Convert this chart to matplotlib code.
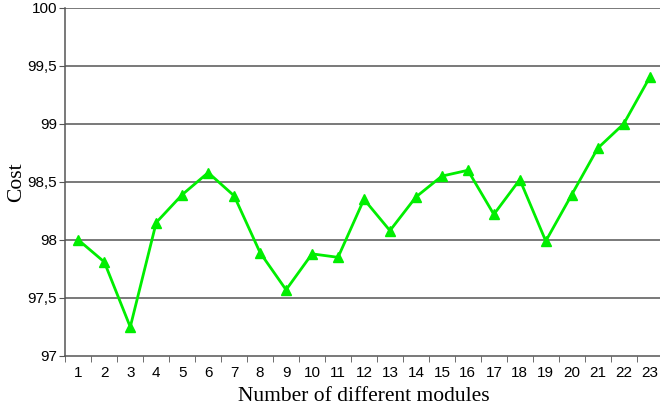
import matplotlib
matplotlib.use('Agg')
import matplotlib.pyplot as plt
import numpy as np

modules = list(range(1, 24))
cost = [98.0, 97.81, 97.25, 98.15, 98.39, 98.58, 98.38, 97.89, 97.57, 97.88,
        97.85, 98.35, 98.08, 98.37, 98.55, 98.6, 98.22, 98.52, 97.99, 98.39,
        98.79, 99.0, 99.4]
y_ticks = [97, 97.5, 98, 98.5, 99, 99.5, 100]
y_labels = ['97', '97,5', '98', '98,5', '99', '99,5', '100']

GRID = '#555555'
GREEN = '#00ee00'

fig = plt.figure(figsize=(6.6, 4.12), dpi=100)
ax = fig.add_axes([0.099, 0.136, 0.905, 0.845])

for y in y_ticks[1:]:
    ax.axhline(y, color=GRID, lw=1.1, zorder=1)

ax.plot(modules, cost, color=GREEN, lw=2, marker='^', markersize=7, zorder=3)

ax.set_xlim(0.5, 23.5)
ax.set_ylim(97, 100)
ax.set_yticks(y_ticks)
ax.set_yticklabels(y_labels, fontsize=11, family='Liberation Sans')
ax.set_xticks(modules)
ax.set_xticklabels([str(m) for m in modules], fontsize=11, family='Liberation Sans')
ax.set_xticks(np.arange(0.5, 24, 1), minor=True)
ax.tick_params(axis='x', which='major', length=0, pad=7)
ax.tick_params(axis='x', which='minor', length=4, color=GRID, direction='out')
ax.tick_params(axis='y', length=4, color=GRID, direction='out', pad=2)

for side in ['top', 'right']:
    ax.spines[side].set_visible(False)
for side in ['left', 'bottom']:
    ax.spines[side].set_color(GRID)
    ax.spines[side].set_linewidth(1.1)

ax.set_xlabel('Number of different modules', fontsize=15.5, family='Liberation Serif', labelpad=5)
ax.set_ylabel('Cost', fontsize=15.5, family='Liberation Serif', labelpad=1)

fig.savefig('out.png', dpi=100)
